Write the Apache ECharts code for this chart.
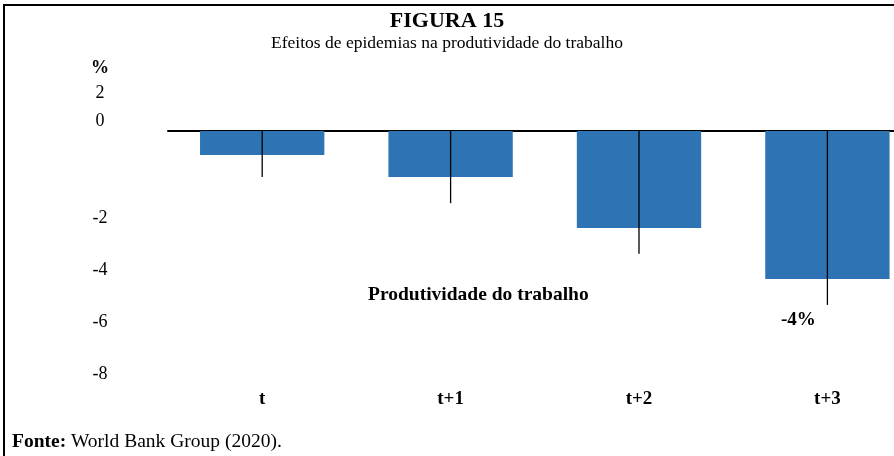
<!DOCTYPE html>
<html>
<head>
<meta charset="utf-8">
<script src="https://cdn.jsdelivr.net/npm/echarts@6/dist/echarts.min.js"></script>
<style>
html,body{margin:0;padding:0;background:#fff;}
#chart{width:894px;height:456px;}
</style>
</head>
<body>
<div id="chart"></div>
<script>
// ---- data ----
var categories = ['t', 't+1', 't+2', 't+3'];
var productivity = [-0.65, -1.24, -2.62, -4.0];
var lowerBound = [-1.24, -1.95, -3.32, -4.7];
var yTickLabels = ['2', '0', '-2', '-4', '-6', '-8'];
var titleText = 'FIGURA 15';
var subtitleText = 'Efeitos de epidemias na produtividade do trabalho';
var seriesName = 'Produtividade do trabalho';
var lastLabel = '-4%';
var unitLabel = '%';
var sourceBold = 'Fonte:';
var sourceText = ' World Bank Group (2020).';

// label slots on the label axis (the original's tick labels are irregularly spaced)
var labelSlots = [2.81, 1.73, -2, -4, -6, -8];

var FONT = '"Liberation Serif", "Times New Roman", serif';
var chart = echarts.init(document.getElementById('chart'), null, {renderer: 'canvas'});

var option = {
  backgroundColor: '#fff',
  animation: false,
  title: {
    text: titleText,
    subtext: subtitleText,
    left: 'center',
    top: 5,
    itemGap: 2,
    textStyle: {fontFamily: FONT, fontSize: 22, fontWeight: 'bold', color: '#000'},
    subtextStyle: {fontFamily: FONT, fontSize: 17.5, color: '#000'}
  },
  grid: {left: 168, width: 753.6, top: 75.5, bottom: 66, containLabel: false, outerBoundsMode: 'none'},
  xAxis: {
    type: 'category',
    data: categories,
    axisLine: {onZero: true, lineStyle: {color: '#000', width: 2}},
    axisTick: {show: false},
    axisLabel: {
      color: '#000', fontFamily: FONT, fontSize: 19, fontWeight: 'bold',
      margin: 0, verticalAlign: 'top', interval: 0
    }
  },
  yAxis: [
    {
      type: 'value', min: -7, max: 1.5,
      axisLine: {show: false}, axisTick: {show: false},
      axisLabel: {show: false}, splitLine: {show: false}
    },
    {
      type: 'value', position: 'left', min: -8.615, max: 3.48,
      axisLine: {show: false}, axisTick: {show: false}, splitLine: {show: false},
      axisLabel: {
        customValues: labelSlots,
        align: 'center', margin: 68,
        color: '#000', fontFamily: FONT, fontSize: 18,
        formatter: function (v) {
          for (var i = 0; i < labelSlots.length; i++) {
            if (Math.abs(labelSlots[i] - v) < 1e-6) return yTickLabels[i];
          }
          return '';
        }
      }
    }
  ],
  series: [
    {
      name: seriesName,
      type: 'bar',
      data: productivity,
      barWidth: '66%',
      itemStyle: {color: '#2E74B5'},
      z: 2
    },
    {
      name: 'range',
      type: 'custom',
      data: lowerBound.map(function (v, i) { return [i, v]; }),
      encode: {x: 0, y: 1},
      z: 5,
      renderItem: function (params, api) {
        var top = api.coord([api.value(0), 0]);
        var bot = api.coord([api.value(0), api.value(1)]);
        return {
          type: 'line',
          shape: {x1: top[0], y1: top[1], x2: bot[0], y2: bot[1]},
          style: {stroke: '#000', lineWidth: 1.3}
        };
      }
    }
  ],
  graphic: [
    {type: 'polyline', shape: {points: [[4, 456], [4, 5], [894, 5]]},
     style: {stroke: '#000', lineWidth: 2, fill: null}},
    {type: 'text', left: 91, top: 59,
     style: {text: unitLabel, fontFamily: FONT, fontSize: 18, fontWeight: 'bold', fill: '#000'}},
    {type: 'text', left: 368, top: 285,
     style: {text: seriesName, fontFamily: FONT, fontSize: 19.5, fontWeight: 'bold', fill: '#000'}},
    {type: 'text', left: 781, top: 311,
     style: {text: lastLabel, fontFamily: FONT, fontSize: 19, fontWeight: 'bold', fill: '#000'}},
    {type: 'text', left: 12, top: 432,
     style: {
       text: '{b|' + sourceBold + '}' + sourceText,
       fontFamily: FONT, fontSize: 19.5, fill: '#000',
       rich: {b: {fontFamily: FONT, fontSize: 19.5, fontWeight: 'bold', fill: '#000'}}
     }}
  ]
};
chart.setOption(option);
</script>
</body>
</html>
